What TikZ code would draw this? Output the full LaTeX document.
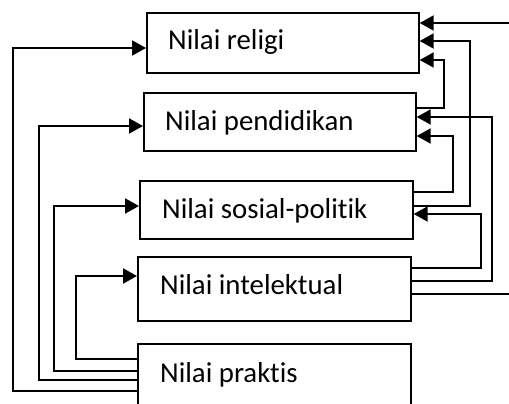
\documentclass[tikz,border=0pt]{standalone}
\usepackage{fontspec}
\setmainfont{Carlito}[Ligatures={NoCommon}]
\usetikzlibrary{arrows.meta}
\tikzset{
  box/.style={draw, line width=1.7pt, rectangle, inner sep=0pt, anchor=north west},
  lbl/.style={anchor=base west, inner sep=0pt, font=\fontsize{28.8}{34}\selectfont},
  conn/.style={line width=1.9pt},
  arr/.style={conn, -{Triangle[length=14pt,width=15pt]}}
}
\begin{document}
\begin{tikzpicture}[x=1pt,y=-1pt]
\useasboundingbox (0,0) rectangle (509,404);
\begin{scope}
\clip (0,0) rectangle (509,404);
% boxes
\node[box, minimum width=272pt, minimum height=60pt] (rel) at (146,12) {};
\node[box, minimum width=272pt, minimum height=58pt] (pen) at (143,92) {};
\node[box, minimum width=273pt, minimum height=58pt] (sos) at (139,180) {};
\node[box, minimum width=273pt, minimum height=64pt] (int) at (137,256) {};
\node[box, minimum width=273pt, minimum height=90pt] (pra) at (137,343) {};
% labels
\node[lbl] (trel) at (168,50) {Nilai religi};
\node[lbl] (tpen) at (165,130) {Nilai pendidikan};
\node[lbl] (tsos) at (162,218) {Nilai sosial-politik};
\node[lbl] (tint) at (160,294) {Nilai intelektual};
\node[lbl] (tpra) at (160,382) {Nilai praktis};
% left connectors
\draw[arr] (pra.west |- 0,391) -| (13,48) -- (rel.west |- 0,48);
\draw[arr] (pra.west |- 0,380) -| (39,126) -- (pen.west |- 0,126);
\draw[arr] (pra.west |- 0,371) -| (54,206) -- (sos.west |- 0,206);
\draw[arr] (pra.west |- 0,359) -| (76,276) -- (int.west |- 0,276);
% right connectors
\draw[arr] (sos.east |- 0,192) -| (453,136) -- (pen.east |- 0,136);
\draw[arr] (sos.east |- 0,206) -| (470,41) -- (rel.east |- 0,41);
\draw[arr] (pen.east |- 0,108) -| (444,60) -- (rel.east |- 0,60);
\draw[arr] (int.east |- 0,281) -| (492,117) -- (pen.east |- 0,117);
\draw[arr] (int.east |- 0,268) -| (481,214) -- (sos.east |- 0,214);
\draw[arr] (int.east |- 0,294) -| (525,23) -- (rel.east |- 0,23);
\end{scope}
\end{tikzpicture}
\end{document}
